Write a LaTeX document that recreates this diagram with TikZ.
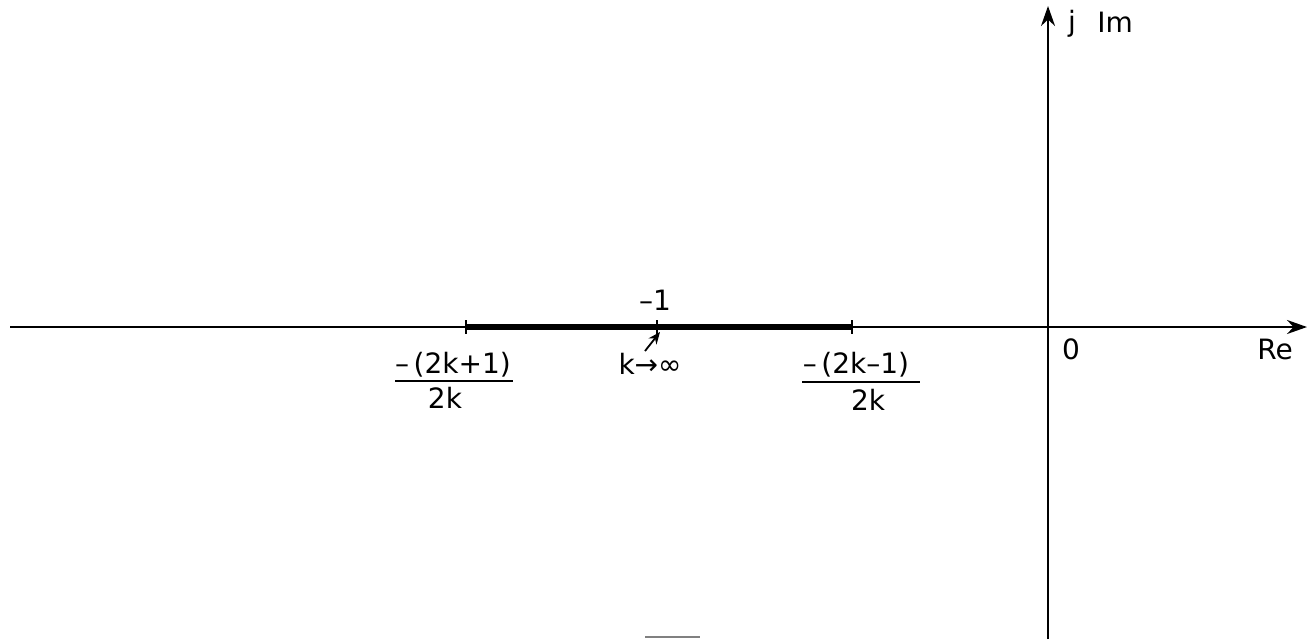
\documentclass[tikz,border=0pt]{standalone}
\usepackage{fontspec}
\setmainfont{DejaVu Sans}
\usetikzlibrary{arrows.meta}
\tikzset{
  axis/.style={line width=1.2pt, -{Stealth[length=10pt,width=7pt]}},
  seg/.style={line width=2.8pt},
  tick/.style={line width=1pt},
  lbl/.style={inner sep=0pt, font=\fontsize{14}{16}\selectfont},
  bar/.style={line width=1pt},
}
\begin{document}
\begin{tikzpicture}[x=0.5pt,y=-0.5pt]
\useasboundingbox (0,0) rectangle (1315,639);
% axes
\coordinate (reS) at (10,327);
\coordinate (reE) at (1307,327);
\coordinate (imS) at (1048,639);
\coordinate (imE) at (1048,6);
\draw[axis] (reS) -- (reE);
\draw[axis] (imS) -- (imE);
% thick segment
\coordinate (sL) at (466,327);
\coordinate (sR) at (852,327);
\draw[seg] (sL) -- (sR);
\draw[tick] (466,320) -- (466,334);
\draw[tick] (852,320) -- (852,334);
\draw[tick] (657,320) -- (657,334);
% labels
\node[lbl] (m1) at (655,300) {–1};
\coordinate (aS) at (645,351);
\coordinate (aE) at (660,332);
\draw[line width=0.9pt, -{Stealth[length=6pt,width=5pt]}] (aS) -- (aE);
\node[lbl] (kinf) at (650,364) {k→∞};
% left fraction
\node[lbl] (ln) at (453,365) {–\,(2k+1)};
\coordinate (lb1) at (395,381);
\coordinate (lb2) at (513,381);
\draw[bar] (lb1) -- (lb2);
\node[lbl] (ld) at (445,398) {2k};
% right fraction
\node[lbl] (rn) at (856,365) {–\,(2k–1)};
\coordinate (rb1) at (802,382);
\coordinate (rb2) at (920,382);
\draw[bar] (rb1) -- (rb2);
\node[lbl] (rd) at (868,400) {2k};
% axis labels
\node[lbl] (zero) at (1071,349) {0};
\node[lbl] (re) at (1275,349) {Re};
\node[lbl] (j) at (1072,24) {j};
\node[lbl] (im) at (1115,22) {Im};
% bottom mark
\coordinate (g1) at (645,637);
\coordinate (g2) at (700,637);
\draw[gray, line width=1pt] (g1) -- (g2);
\end{tikzpicture}
\end{document}
